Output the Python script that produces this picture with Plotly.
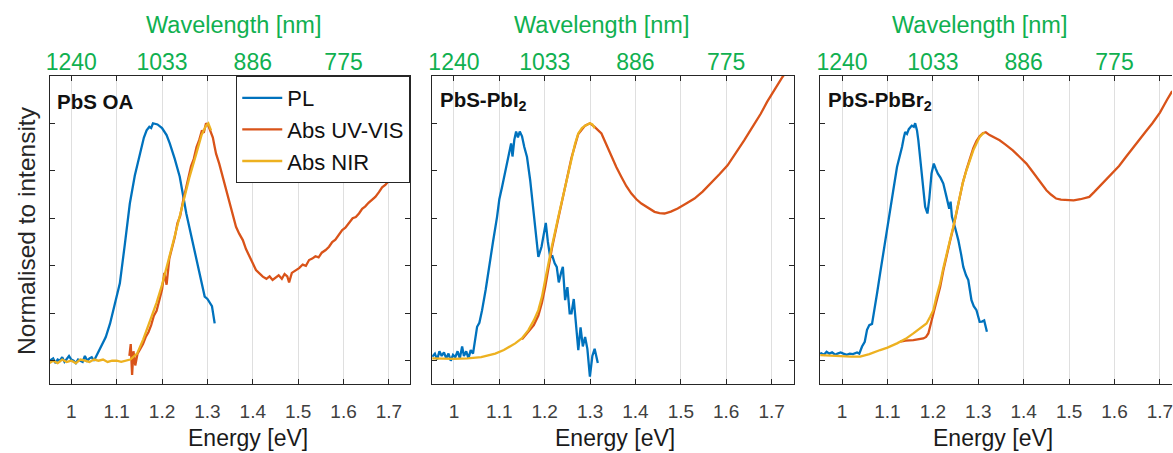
import plotly.graph_objects as go

# ---------------- data ----------------
# Panel 1: PbS OA
pl1_e = [0.952,0.96,0.965,0.97,0.975,0.98,0.985,0.99,0.995,1.0,1.005,1.01,1.015,1.02,1.025,1.03,1.035,1.04,1.045,
         1.05,1.058,1.067,1.076,1.0855,1.095,1.107,1.118,1.129,1.14,1.151,1.16,1.166,1.172,1.176,1.18,1.19,1.2,1.21,
         1.217,1.228,1.239,1.2535,1.268,1.283,1.294,1.3,1.31,1.316]
pl1_y = [0.0,0.01,-0.01,0.005,0.0,0.015,-0.005,0.01,0.02,0.005,0.0,-0.01,0.005,0.0,-0.005,0.02,0.0,0.01,0.015,
         0.0,0.03,0.06,0.1,0.157,0.23,0.326,0.49,0.662,0.78,0.872,0.94,0.97,0.985,0.98,1.0,0.995,0.98,0.95,
         0.915,0.85,0.775,0.62,0.494,0.368,0.27,0.26,0.23,0.157]
uv1_e = [1.128,1.131,1.134,1.137,1.141,1.146,1.152,1.158,1.164,1.17,1.176,1.182,1.188,1.194,1.2,1.205,1.21,1.216,
         1.222,1.228,1.234,1.24,1.246,1.252,1.258,1.264,1.27,1.276,1.282,1.288,1.292,1.297,1.302,1.307,1.312,1.316,
         1.319,1.326,1.334,1.34,1.349,1.356,1.363,1.37,1.378,1.385,1.3925,1.4,1.407,1.414,1.422,1.43,1.437,1.4436,
         1.45,1.457,1.464,1.47,1.476,1.48,1.486,1.495,1.502,1.51,1.517,1.524,1.531,1.538,1.545,1.552,1.5605,1.568,
         1.575,1.582,1.59,1.597,1.604,1.612,1.62,1.627,1.634,1.641,1.648,1.655,1.662,1.67,1.678,1.685,1.692,1.7,
         1.707,1.715,1.722,1.73,1.737,1.747]
uv1_y = [0.02,0.07,-0.06,0.04,-0.02,0.03,0.05,0.07,0.1,0.12,0.15,0.19,0.21,0.26,0.3,0.37,0.32,0.43,
         0.47,0.52,0.58,0.61,0.67,0.72,0.76,0.82,0.85,0.9,0.93,0.97,0.96,1.0,0.99,0.96,0.94,0.9,
         0.872,0.83,0.774,0.73,0.662,0.61,0.564,0.535,0.508,0.47,0.437,0.41,0.382,0.37,0.354,0.345,0.355,0.34,
         0.35,0.36,0.345,0.365,0.355,0.33,0.37,0.382,0.39,0.405,0.4,0.424,0.43,0.44,0.435,0.455,0.466,0.48,
         0.5,0.51,0.53,0.55,0.56,0.58,0.6,0.605,0.62,0.64,0.65,0.665,0.675,0.69,0.71,0.73,0.74,0.76,
         0.774,0.79,0.8,0.81,0.82,0.84]
nir1_e = [0.952,0.96,0.97,0.98,0.99,1.0,1.01,1.02,1.03,1.04,1.05,1.06,1.07,1.08,1.09,1.1,1.11,1.12,1.13,
          1.145,1.1585,1.17,1.18,1.188,1.2,1.217,1.23,1.246,1.26,1.2755,1.287,1.297,1.302,1.308]
nir1_y = [-0.01,0.0,-0.01,0.005,-0.005,0.0,-0.01,0.005,0.0,-0.005,0.005,0.0,0.005,-0.005,0.0,0.0,-0.005,0.0,0.005,
          0.03,0.09,0.15,0.2,0.245,0.32,0.44,0.54,0.662,0.77,0.872,0.95,0.99,1.0,0.97]

# Panel 2: PbS-PbI2
pl2_e = [0.952,0.958,0.963,0.968,0.973,0.978,0.983,0.988,0.993,0.998,1.003,1.008,1.013,1.018,1.022,1.027,1.032,1.037,
         1.042,1.047,1.051,1.056,1.062,1.07,1.077,1.086,1.095,1.1,1.106,1.114,1.121,1.126,1.129,1.133,1.137,1.141,
         1.145,1.15,1.155,1.161,1.168,1.174,1.179,1.186,1.193,1.198,1.2024,1.207,1.212,1.217,1.222,1.2265,1.231,
         1.236,1.24,1.245,1.25,1.255,1.259,1.264,1.269,1.274,1.279,1.284,1.289,1.294,1.2996,1.305,1.31,1.317]
pl2_y = [0.017,0.03,0.005,0.04,0.02,0.035,0.01,0.03,0.0,0.025,0.015,0.04,0.01,0.06,0.02,0.04,0.01,0.045,
         0.03,0.1,0.143,0.16,0.213,0.3,0.395,0.5,0.606,0.68,0.732,0.8,0.872,0.915,0.86,0.93,0.965,0.94,
         0.965,0.945,0.9,0.858,0.76,0.66,0.564,0.437,0.48,0.54,0.58,0.5,0.437,0.44,0.41,0.395,0.33,
         0.37,0.395,0.255,0.31,0.2,0.2,0.26,0.16,0.045,0.14,0.06,0.1,0.05,-0.067,0.02,0.05,-0.01]
uv2_e = [1.15,1.164,1.176,1.186,1.194,1.201,1.208,1.2156,1.23,1.245,1.259,1.274,1.289,1.2996,1.31,1.325,1.336,1.347,
         1.358,1.369,1.38,1.391,1.402,1.413,1.428,1.442,1.453,1.464,1.478,1.493,1.51,1.53,1.548,1.566,1.585,1.603,
         1.62,1.6395,1.658,1.676,1.69,1.705,1.724,1.745]
uv2_y = [0.09,0.12,0.15,0.19,0.245,0.31,0.39,0.47,0.6,0.73,0.855,0.955,0.99,1.0,0.985,0.957,0.91,0.858,
         0.815,0.774,0.735,0.704,0.68,0.662,0.642,0.627,0.622,0.62,0.628,0.641,0.66,0.683,0.712,0.746,0.785,0.823,
         0.87,0.928,0.985,1.04,1.09,1.139,1.195,1.25]
nir2_e = [0.952,0.98,1.0,1.03,1.06,1.091,1.11,1.135,1.15,1.164,1.176,1.186,1.194,1.201,1.208,1.2156,1.23,1.245,
          1.259,1.267,1.274,1.282,1.289,1.2996,1.305,1.31]
nir2_y = [0.01,0.008,0.008,0.01,0.015,0.03,0.045,0.073,0.095,0.129,0.17,0.213,0.27,0.34,0.41,0.48,0.606,0.732,
          0.858,0.915,0.957,0.98,0.99,1.0,0.995,0.98]

# Panel 3: PbS-PbBr2
pl3_e = [0.952,0.96,0.966,0.972,0.978,0.985,0.99,0.997,1.003,1.01,1.017,1.024,1.033,1.038,1.044,1.05,1.055,1.06,
         1.066,1.072,1.077,1.084,1.091,1.098,1.106,1.113,1.121,1.127,1.132,1.136,1.139,1.143,1.147,1.1535,1.158,
         1.161,1.165,1.168,1.172,1.175,1.179,1.183,1.188,1.192,1.197,1.202,1.206,1.211,1.217,1.223,1.23,1.236,
         1.239,1.242,1.249,1.256,1.262,1.267,1.273,1.278,1.285,1.29,1.296,1.303,1.308,1.313,1.319]
pl3_y = [0.034,0.025,0.038,0.03,0.035,0.025,0.03,0.035,0.03,0.025,0.03,0.028,0.035,0.03,0.06,0.08,0.13,0.15,
         0.155,0.22,0.283,0.37,0.452,0.54,0.62,0.72,0.816,0.86,0.9,0.94,0.963,0.955,0.975,0.99,0.985,
         1.0,0.97,0.928,0.85,0.788,0.72,0.648,0.62,0.68,0.788,0.83,0.81,0.788,0.77,0.746,0.69,0.64,
         0.67,0.606,0.56,0.508,0.45,0.395,0.36,0.34,0.255,0.23,0.213,0.164,0.165,0.17,0.122]
uv3_e = [1.128,1.14,1.157,1.17,1.179,1.185,1.19,1.196,1.201,1.208,1.216,1.223,1.23,1.238,1.245,1.252,1.259,1.266,
         1.274,1.282,1.289,1.296,1.303,1.31,1.3165,1.325,1.335,1.347,1.36,1.376,1.39,1.406,1.418,1.428,1.44,1.45,
         1.46,1.4715,1.482,1.493,1.51,1.525,1.5445,1.555,1.566,1.58,1.5956,1.61,1.625,1.64,1.654,1.668,1.683,
         1.7,1.716,1.727]
uv3_y = [0.08,0.085,0.087,0.09,0.094,0.1,0.115,0.16,0.2,0.255,0.31,0.38,0.445,0.505,0.56,0.625,0.69,0.75,
         0.805,0.855,0.895,0.925,0.945,0.958,0.962,0.95,0.94,0.928,0.91,0.886,0.86,0.83,0.8,0.774,0.745,0.718,
         0.7,0.683,0.678,0.676,0.675,0.68,0.69,0.71,0.732,0.76,0.79,0.82,0.858,0.893,0.928,0.963,0.999,
         1.045,1.1,1.135]
nir3_e = [0.952,0.98,1.0,1.02,1.04,1.06,1.084,1.1,1.121,1.14,1.157,1.172,1.186,1.194,1.201,1.208,1.216,1.223,
          1.23,1.238,1.245,1.252,1.259,1.266,1.274,1.282,1.289,1.296,1.303,1.309,1.314]
nir3_y = [0.024,0.02,0.018,0.017,0.017,0.028,0.045,0.055,0.073,0.092,0.115,0.135,0.157,0.185,0.213,0.27,0.326,0.39,
          0.452,0.51,0.564,0.63,0.69,0.75,0.802,0.85,0.886,0.915,0.942,0.955,0.96]

panel_labels = ["<b>PbS OA</b>", "<b>PbS-PbI<sub>2</sub></b>", "<b>PbS-PbBr<sub>2</sub></b>"]
series_names = ["PL", "Abs UV-VIS", "Abs NIR"]
energy_ticks = [1.0, 1.1, 1.2, 1.3, 1.4, 1.5, 1.6, 1.7]
energy_ticktext = ["1", "1.1", "1.2", "1.3", "1.4", "1.5", "1.6", "1.7"]
wl_ticks = [1.0, 1.2, 1.4, 1.6]
wl_ticktext = ["1240", "1033", "886", "775"]
y_ticks = [0, 0.2, 0.4, 0.6, 0.8, 1.0]

# ---------------- style ----------------
W, H = 1173, 453
FONT = "Liberation Sans, Arial, sans-serif"
C_PL, C_UV, C_NIR = "#0072BD", "#D95319", "#EDB120"
GREEN = "#10B050"
AX = "#262626"

panels = [
    (pl1_e, pl1_y, uv1_e, uv1_y, nir1_e, nir1_y),
    (pl2_e, pl2_y, uv2_e, uv2_y, nir2_e, nir2_y),
    (pl3_e, pl3_y, uv3_e, uv3_y, nir3_e, nir3_y),
]
dom_px = [(45.7, 408.0), (430.0, 793.0), (819.3, 1173.0)]
xranges = [[0.952, 1.747], [0.952, 1.7485], [0.951, 1.7266]]
yrange = [-0.098, 1.199]
ydom = [1 - 384 / H, 1 - 76 / H]

fig = go.Figure()
layout = dict(
    width=W, height=H, margin=dict(l=0, r=0, t=0, b=0),
    paper_bgcolor="white", plot_bgcolor="white",
    font=dict(family=FONT, color=AX),
    showlegend=True,
    legend=dict(x=408 / W, y=1 - 76 / H, xanchor="right", yanchor="top",
                bgcolor="white", bordercolor=AX, borderwidth=1,
                font=dict(family=FONT, size=22, color="#111111"),
                tracegroupgap=0, itemwidth=40),
)

for i, (pe, py_, ue, uy, ne, ny) in enumerate(panels):
    n = i + 1
    xs = "" if n == 1 else str(n)
    xa, ya = "x" + xs, "y" + xs
    top_n = n + 3
    for name, ex, ey, col in [(series_names[0], pe, py_, C_PL),
                              (series_names[1], ue, uy, C_UV),
                              (series_names[2], ne, ny, C_NIR)]:
        fig.add_trace(go.Scatter(x=ex, y=ey, mode="lines", name=name,
                                 line=dict(color=col, width=2.3),
                                 xaxis=xa, yaxis=ya, showlegend=(n == 1),
                                 legendgroup=name))
    # empty trace that makes the top wavelength axis render
    fig.add_trace(go.Scatter(x=[], y=[], xaxis="x" + str(top_n), yaxis=ya,
                             showlegend=False, hoverinfo="skip"))
    d0, d1 = dom_px[i]
    layout["xaxis" + xs] = dict(
        domain=[d0 / W, d1 / W], range=xranges[i], anchor=ya,
        tickvals=energy_ticks, ticktext=energy_ticktext,
        tickfont=dict(size=19, color="#404040", family=FONT),
        ticks="inside", ticklen=5, tickcolor=AX,
        showline=True, linecolor=AX, linewidth=1,
        mirror="ticks",
        showgrid=True, gridcolor="#dfdfdf", gridwidth=1,
        zeroline=False, ticklabelstandoff=10, ticklabeloverflow="allow",
    )
    layout["xaxis" + str(top_n)] = dict(
        overlaying=xa, anchor=ya, side="top", range=xranges[i],
        tickvals=wl_ticks, ticktext=wl_ticktext,
        tickfont=dict(size=23, color=GREEN, family=FONT),
        ticks="", showline=False, showgrid=False, zeroline=False,
        ticklabeloverflow="allow",
    )
    layout["yaxis" + xs] = dict(
        domain=ydom, range=yrange, anchor=xa,
        tickvals=y_ticks, showticklabels=False,
        ticks="inside", ticklen=5, tickcolor=AX,
        showline=True, linecolor=AX, linewidth=1,
        mirror=("ticks" if n < 3 else False),
        showgrid=False, zeroline=False,
    )

fig.update_layout(**layout)

annotations = []
energy_cx = [245, 614, 993.5]
wl_cx = [230.5, 600.5, 979.5]
label_x = [51, 435.5, 825.5]
for i in range(3):
    annotations.append(dict(text="Energy [eV]", x=energy_cx[i] / W, y=1 - 438 / H,
                            xref="paper", yref="paper", showarrow=False,
                            xanchor="center", yanchor="middle",
                            font=dict(size=23, color="#1a1a1a", family=FONT)))
    annotations.append(dict(text="Wavelength [nm]", x=wl_cx[i] / W, y=1 - 25 / H,
                            xref="paper", yref="paper", showarrow=False,
                            xanchor="center", yanchor="middle",
                            font=dict(size=23.5, color=GREEN, family=FONT)))
    annotations.append(dict(text=panel_labels[i], x=label_x[i] / W, y=1 - 101 / H,
                            xref="paper", yref="paper", showarrow=False,
                            xanchor="left", yanchor="middle",
                            font=dict(size=20.5, color="#111111", family=FONT)))
annotations.append(dict(text="Normalised to intensity", x=22 / W, y=1 - 230 / H,
                        xref="paper", yref="paper", showarrow=False, textangle=-90,
                        xanchor="center", yanchor="middle",
                        font=dict(size=24.5, color="#262626", family=FONT)))
fig.update_layout(annotations=annotations)

fig.write_html("out.html")
